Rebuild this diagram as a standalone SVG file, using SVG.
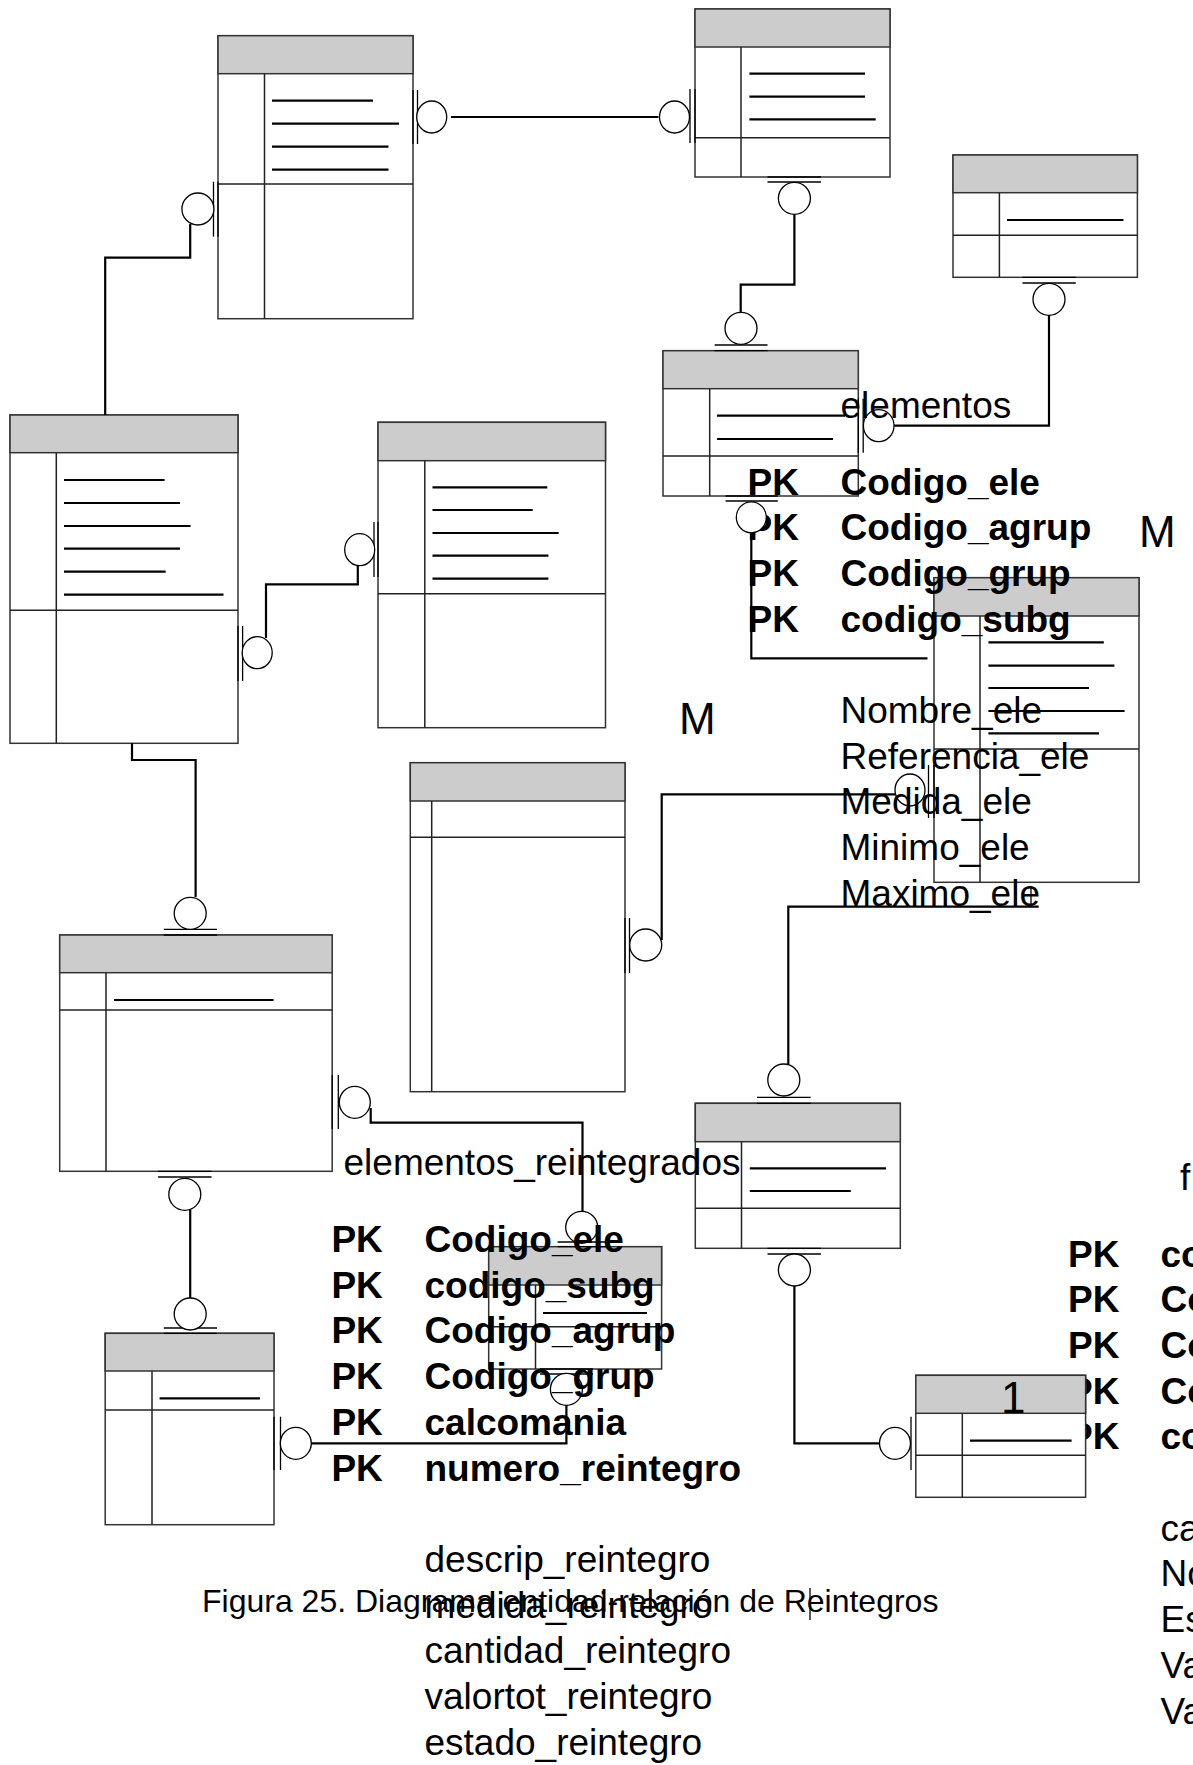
<svg xmlns="http://www.w3.org/2000/svg" width="1193" height="1765" viewBox="0 0 1193 1765">
  <style>
    .box { fill: #fff; stroke: #333; stroke-width: 1.5; }
    .hdr { fill: #ccc; stroke: #333; stroke-width: 1.5; }
    .sep { stroke: #222; stroke-width: 1.5; fill: none; }
    .fld { stroke: #000; stroke-width: 2.2; }
    .conn { fill: none; stroke: #000; stroke-width: 2.2; }
    .ring { fill: #fff; stroke: #000; stroke-width: 1.3; }
    .bar { stroke: #000; stroke-width: 1.3; }
    .t { font-family: "Liberation Sans", Arial, sans-serif; font-size: 37px; fill: #000; }
    .b { font-weight: bold; }
    .cap { font-size: 32px; }
    .big { font-size: 44px; }
  </style>

  <rect width="1193" height="1765" fill="#fff"/>

  <!-- entity boxes: outline, grey title band, key column, key/field divider, field rules -->
  <g id="entity-a">
    <rect class="box" x="218" y="35.7" width="195" height="283"/>
    <rect class="hdr" x="218" y="35.7" width="195" height="38"/>
    <line class="sep" x1="218" y1="184" x2="413" y2="184"/>
    <line class="sep" x1="264.5" y1="73.7" x2="264.5" y2="318.7"/>
    <line class="fld" x1="272" y1="100.7" x2="373" y2="100.7"/>
    <line class="fld" x1="272" y1="123.7" x2="399" y2="123.7"/>
    <line class="fld" x1="272" y1="146.7" x2="388.5" y2="146.7"/>
    <line class="fld" x1="272" y1="169.7" x2="388.5" y2="169.7"/>
  </g>
  <g id="entity-b">
    <rect class="box" x="695" y="9" width="195" height="168"/>
    <rect class="hdr" x="695" y="9" width="195" height="38"/>
    <line class="sep" x1="695" y1="137.7" x2="890" y2="137.7"/>
    <line class="sep" x1="741" y1="47" x2="741" y2="177"/>
    <line class="fld" x1="749.4" y1="73.7" x2="865" y2="73.7"/>
    <line class="fld" x1="749.4" y1="96.7" x2="865" y2="96.7"/>
    <line class="fld" x1="749.4" y1="119.3" x2="875.7" y2="119.3"/>
  </g>
  <g id="entity-c">
    <rect class="box" x="663" y="350.7" width="195.3" height="145.3"/>
    <rect class="hdr" x="663" y="350.7" width="195.3" height="38"/>
    <line class="sep" x1="663" y1="456" x2="858.3" y2="456"/>
    <line class="sep" x1="709.7" y1="388.7" x2="709.7" y2="496"/>
    <line class="fld" x1="717" y1="415.7" x2="845" y2="415.7"/>
    <line class="fld" x1="717" y1="439" x2="833" y2="439"/>
  </g>
  <g id="entity-d">
    <rect class="box" x="953" y="155" width="184.4" height="122.3"/>
    <rect class="hdr" x="953" y="155" width="184.4" height="37.7"/>
    <line class="sep" x1="953" y1="235.3" x2="1137.4" y2="235.3"/>
    <line class="sep" x1="999.4" y1="192.7" x2="999.4" y2="277.3"/>
    <line class="fld" x1="1007" y1="220" x2="1123.4" y2="220"/>
  </g>
  <g id="entity-e">
    <rect class="box" x="934" y="577.7" width="205" height="304.6"/>
    <rect class="hdr" x="934" y="577.7" width="205" height="38.3"/>
    <line class="sep" x1="934" y1="749" x2="1139" y2="749"/>
    <line class="sep" x1="980" y1="616" x2="980" y2="882.3"/>
    <line class="fld" x1="988.4" y1="642.3" x2="1103.8" y2="642.3"/>
    <line class="fld" x1="988.4" y1="665.7" x2="1114.4" y2="665.7"/>
    <line class="fld" x1="988.4" y1="688" x2="1089" y2="688"/>
    <line class="fld" x1="988.4" y1="711" x2="1124.6" y2="711"/>
    <line class="fld" x1="988.4" y1="733.3" x2="1099" y2="733.3"/>
  </g>
  <g id="entity-f">
    <rect class="box" x="10" y="415" width="228" height="328.3"/>
    <rect class="hdr" x="10" y="415" width="228" height="37.7"/>
    <line class="sep" x1="10" y1="610.3" x2="238" y2="610.3"/>
    <line class="sep" x1="56.3" y1="452.7" x2="56.3" y2="743.3"/>
    <line class="fld" x1="64" y1="480" x2="164.6" y2="480"/>
    <line class="fld" x1="64" y1="503" x2="180" y2="503"/>
    <line class="fld" x1="64" y1="526" x2="190.6" y2="526"/>
    <line class="fld" x1="64" y1="548.7" x2="180" y2="548.7"/>
    <line class="fld" x1="64" y1="571.7" x2="165.7" y2="571.7"/>
    <line class="fld" x1="64" y1="594.7" x2="223.5" y2="594.7"/>
  </g>
  <g id="entity-g">
    <rect class="box" x="378" y="422.3" width="227.5" height="305.4"/>
    <rect class="hdr" x="378" y="422.3" width="227.5" height="38.4"/>
    <line class="sep" x1="378" y1="593.7" x2="605.5" y2="593.7"/>
    <line class="sep" x1="424.8" y1="460.7" x2="424.8" y2="727.7"/>
    <line class="fld" x1="432.5" y1="487.3" x2="547.3" y2="487.3"/>
    <line class="fld" x1="432.5" y1="510" x2="532.7" y2="510"/>
    <line class="fld" x1="432.5" y1="533" x2="558.7" y2="533"/>
    <line class="fld" x1="432.5" y1="555.7" x2="548.4" y2="555.7"/>
    <line class="fld" x1="432.5" y1="578.7" x2="548.4" y2="578.7"/>
  </g>
  <g id="entity-k">
    <rect class="box" x="410.3" y="762.7" width="214.7" height="329"/>
    <rect class="hdr" x="410.3" y="762.7" width="214.7" height="38.3"/>
    <line class="sep" x1="410.3" y1="837.3" x2="625" y2="837.3"/>
    <line class="sep" x1="431.7" y1="801" x2="431.7" y2="1091.7"/>
  </g>
  <g id="entity-l">
    <rect class="box" x="59.7" y="935" width="272.5" height="236.3"/>
    <rect class="hdr" x="59.7" y="935" width="272.5" height="37.7"/>
    <line class="sep" x1="59.7" y1="1010" x2="332.2" y2="1010"/>
    <line class="sep" x1="106" y1="972.7" x2="106" y2="1171.3"/>
    <line class="fld" x1="114" y1="1000" x2="273.6" y2="1000"/>
  </g>
  <g id="entity-h">
    <rect class="box" x="488.7" y="1246.7" width="172.9" height="122.3"/>
    <rect class="hdr" x="488.7" y="1246.7" width="172.9" height="38.3"/>
    <line class="sep" x1="488.7" y1="1326.7" x2="661.6" y2="1326.7"/>
    <line class="sep" x1="535.5" y1="1285" x2="535.5" y2="1369"/>
    <line class="fld" x1="543" y1="1313" x2="647" y2="1313"/>
  </g>
  <g id="entity-i">
    <rect class="box" x="695.3" y="1103.3" width="205" height="145"/>
    <rect class="hdr" x="695.3" y="1103.3" width="205" height="38.4"/>
    <line class="sep" x1="695.3" y1="1208.3" x2="900.3" y2="1208.3"/>
    <line class="sep" x1="741.5" y1="1141.7" x2="741.5" y2="1248.3"/>
    <line class="fld" x1="749.8" y1="1168.3" x2="886" y2="1168.3"/>
    <line class="fld" x1="749.8" y1="1191" x2="850.8" y2="1191"/>
  </g>
  <g id="entity-j">
    <rect class="box" x="105.2" y="1333.3" width="168.8" height="191.4"/>
    <rect class="hdr" x="105.2" y="1333.3" width="168.8" height="37.7"/>
    <line class="sep" x1="105.2" y1="1410" x2="274" y2="1410"/>
    <line class="sep" x1="152" y1="1371" x2="152" y2="1524.7"/>
    <line class="fld" x1="159.6" y1="1398.3" x2="259.9" y2="1398.3"/>
  </g>

  <!-- relationship lines with their zero-or-one end marks -->
  <g id="connectors">
    <polyline class="conn" points="451,117 658.5,117"/>
    <polyline class="conn" points="794.4,214.3 794.4,284.7 740.7,284.7 740.7,312.3"/>
    <polyline class="conn" points="1049,315.3 1049,425.7 894.2,425.7"/>
    <polyline class="conn" points="190.2,224 190.2,257.7 105.2,257.7 105.2,415"/>
    <polyline class="conn" points="266,638 266,584.3 357.8,584.3 357.8,565.7"/>
    <polyline class="conn" points="132,743.3 132,760 195.6,760 195.6,897"/>
    <polyline class="conn" points="370.7,1108 370.7,1122.7 582.5,1122.7 582.5,1211"/>
    <polyline class="conn" points="190.2,1210 190.2,1298"/>
    <polyline class="conn" points="306,1443.3 566.4,1443.3 566.4,1405"/>
    <polyline class="conn" points="661.7,940 661.7,794.3 895,794.3"/>
    <polyline class="conn" points="788.3,1064 788.3,906.7 1038.7,906.7"/>
    <polyline class="conn" points="794.4,1286 794.4,1443.3 879,1443.3"/>
    <line class="bar" x1="1031" y1="886" x2="1031" y2="906"/>

    <!-- end marks: two bars at the entity edge, then a ring -->
    <line class="bar" x1="413" y1="90" x2="413" y2="144"/><line class="bar" x1="417.5" y1="90" x2="417.5" y2="144"/>
    <ellipse class="ring" cx="431.7" cy="117" rx="15" ry="16"/>
    <line class="bar" x1="695" y1="89" x2="695" y2="143"/><line class="bar" x1="690" y1="89" x2="690" y2="143"/>
    <ellipse class="ring" cx="674.5" cy="117" rx="15" ry="16"/>
    <line class="bar" x1="767.5" y1="177" x2="821" y2="177"/><line class="bar" x1="767.5" y1="182" x2="821" y2="182"/>
    <ellipse class="ring" cx="794.4" cy="198.3" rx="16" ry="16"/>
    <line class="bar" x1="714.6" y1="350.7" x2="767.5" y2="350.7"/><line class="bar" x1="714.6" y1="345" x2="767.5" y2="345"/>
    <ellipse class="ring" cx="741" cy="328.3" rx="16" ry="16"/>
    <line class="bar" x1="1022.5" y1="277.3" x2="1075.8" y2="277.3"/><line class="bar" x1="1022.5" y1="283" x2="1075.8" y2="283"/>
    <ellipse class="ring" cx="1049" cy="299.3" rx="16" ry="16"/>
    <line class="bar" x1="858.3" y1="398.7" x2="858.3" y2="452.7"/><line class="bar" x1="863.2" y1="398.7" x2="863.2" y2="452.7"/>
    <ellipse class="ring" cx="878.7" cy="425.7" rx="15.3" ry="16"/>
    <line class="bar" x1="218" y1="181.7" x2="218" y2="236.7"/><line class="bar" x1="213.5" y1="181.7" x2="213.5" y2="236.7"/>
    <ellipse class="ring" cx="197.9" cy="209" rx="16" ry="16"/>
    <line class="bar" x1="238" y1="626" x2="238" y2="681"/><line class="bar" x1="242.6" y1="626" x2="242.6" y2="681"/>
    <ellipse class="ring" cx="257.2" cy="652.7" rx="15" ry="16"/>
    <line class="bar" x1="378" y1="522" x2="378" y2="577"/><line class="bar" x1="374" y1="522" x2="374" y2="577"/>
    <ellipse class="ring" cx="359.7" cy="549.7" rx="15" ry="16"/>
    <line class="bar" x1="163.8" y1="935" x2="217" y2="935"/><line class="bar" x1="163.8" y1="929.3" x2="217" y2="929.3"/>
    <ellipse class="ring" cx="190.2" cy="913.3" rx="16" ry="16"/>
    <line class="bar" x1="332.2" y1="1075" x2="332.2" y2="1129"/><line class="bar" x1="338.3" y1="1075" x2="338.3" y2="1129"/>
    <ellipse class="ring" cx="354.8" cy="1102.3" rx="15.5" ry="16"/>
    <line class="bar" x1="158" y1="1171.3" x2="211.6" y2="1171.3"/><line class="bar" x1="158" y1="1177" x2="211.6" y2="1177"/>
    <ellipse class="ring" cx="184.8" cy="1194.3" rx="16" ry="16"/>
    <line class="bar" x1="163.8" y1="1333.3" x2="217" y2="1333.3"/><line class="bar" x1="163.8" y1="1328" x2="217" y2="1328"/>
    <ellipse class="ring" cx="190.2" cy="1314" rx="16" ry="16"/>
    <line class="bar" x1="274" y1="1416.7" x2="274" y2="1470"/><line class="bar" x1="280.5" y1="1416.7" x2="280.5" y2="1470"/>
    <ellipse class="ring" cx="295.8" cy="1443.3" rx="15.5" ry="16"/>
    <line class="bar" x1="557.6" y1="1246.7" x2="606" y2="1246.7"/><line class="bar" x1="557.6" y1="1242" x2="606" y2="1242"/>
    <ellipse class="ring" cx="581.7" cy="1227.3" rx="16" ry="16"/>
    <line class="bar" x1="540" y1="1369" x2="593" y2="1369"/><line class="bar" x1="540" y1="1374" x2="593" y2="1374"/>
    <ellipse class="ring" cx="566.4" cy="1389.3" rx="16" ry="16"/>
    <line class="bar" x1="625" y1="918" x2="625" y2="973"/><line class="bar" x1="629.5" y1="918" x2="629.5" y2="973"/>
    <ellipse class="ring" cx="645.7" cy="945" rx="16" ry="16"/>
    <line class="bar" x1="934" y1="765" x2="934" y2="818"/><line class="bar" x1="928.5" y1="765" x2="928.5" y2="818"/>
    <ellipse class="ring" cx="910" cy="790" rx="15" ry="16"/>
    <line class="bar" x1="757" y1="1103.3" x2="810.7" y2="1103.3"/><line class="bar" x1="757" y1="1097.3" x2="810.7" y2="1097.3"/>
    <ellipse class="ring" cx="783.8" cy="1080" rx="16" ry="16"/>
    <line class="bar" x1="767.5" y1="1248.3" x2="821" y2="1248.3"/><line class="bar" x1="767.5" y1="1254" x2="821" y2="1254"/>
    <ellipse class="ring" cx="794.4" cy="1270" rx="16" ry="16"/>
    <line class="bar" x1="916" y1="1416.7" x2="916" y2="1470"/><line class="bar" x1="911" y1="1416.7" x2="911" y2="1470"/>
    <ellipse class="ring" cx="895" cy="1443.3" rx="15.5" ry="16"/>
  </g>

  <!-- table listings -->
  <g id="table-elementos" class="t">
    <text x="840.5" y="417.5">elementos</text>
    <g class="b">
      <text x="747.5" y="494.5">PK</text><text x="840.5" y="494.5">Codigo_ele</text>
      <text x="747.5" y="540.2">PK</text><text x="840.5" y="540.2">Codigo_agrup</text>
      <text x="747.5" y="585.9">PK</text><text x="840.5" y="585.9">Codigo_grup</text>
      <text x="747.5" y="631.6">PK</text><text x="840.5" y="631.6">codigo_subg</text>
    </g>
    <text x="840.5" y="723">Nombre_ele</text>
    <text x="840.5" y="768.7">Referencia_ele</text>
    <text x="840.5" y="814.4">Medida_ele</text>
    <text x="840.5" y="860.1">Minimo_ele</text>
    <text x="840.5" y="905.8">Maximo_ele</text>
  </g>
  <g id="table-elementos-reintegrados" class="t">
    <text x="343.5" y="1175">elementos_reintegrados</text>
    <g class="b">
      <text x="331.4" y="1252">PK</text><text x="424.5" y="1252">Codigo_ele</text>
      <text x="331.4" y="1297.7">PK</text><text x="424.5" y="1297.7">codigo_subg</text>
      <text x="331.4" y="1343.4">PK</text><text x="424.5" y="1343.4">Codigo_agrup</text>
      <text x="331.4" y="1389.1">PK</text><text x="424.5" y="1389.1">Codigo_grup</text>
      <text x="331.4" y="1434.8">PK</text><text x="424.5" y="1434.8">calcomania</text>
      <text x="331.4" y="1480.5">PK</text><text x="424.5" y="1480.5">numero_reintegro</text>
    </g>
    <text x="424.5" y="1571.9">descrip_reintegro</text>
    <text x="424.5" y="1617.6">medida_reintegro</text>
    <text x="424.5" y="1663.3">cantidad_reintegro</text>
    <text x="424.5" y="1709">valortot_reintegro</text>
    <text x="424.5" y="1754.7">estado_reintegro</text>
  </g>
  <g id="table-f" class="t">
    <text x="1180" y="1189.5">f</text>
    <g class="b">
      <text x="1068" y="1266.5">PK</text><text x="1160.5" y="1266.5">co</text>
      <text x="1068" y="1312.2">PK</text><text x="1160.5" y="1312.2">Co</text>
      <text x="1068" y="1357.9">PK</text><text x="1160.5" y="1357.9">Co</text>
      <text x="1068" y="1403.6">PK</text><text x="1160.5" y="1403.6">Co</text>
      <text x="1068" y="1449.3">PK</text><text x="1160.5" y="1449.3">co</text>
    </g>
    <text x="1160.5" y="1540.7">ca</text>
    <text x="1160.5" y="1586.4">No</text>
    <text x="1160.5" y="1632.1">Es</text>
    <text x="1160.5" y="1677.8">Va</text>
    <text x="1160.5" y="1723.5">Va</text>
  </g>
  <g id="cardinality" class="t big">
    <text x="1139" y="546.5">M</text>
    <text x="679" y="734">M</text>
  </g>
  <text class="t cap" x="202" y="1612">Figura 25. Diagrama entidad-relación de Reintegros</text>
  <line class="bar" x1="810" y1="1588" x2="810" y2="1620" stroke-width="1.6"/>

  <!-- front layer: link under elementos and the small entity holding "1" -->
  <g id="connectors-front">
    <polyline class="conn" points="751.3,532.8 751.3,658.3 927.5,658.3"/>
    <line class="bar" x1="725.6" y1="496" x2="777.8" y2="496"/><line class="bar" x1="725.6" y1="501" x2="777.8" y2="501"/>
    <ellipse class="ring" cx="751.3" cy="517.3" rx="15" ry="15.5"/>
  </g>
  <g id="entity-n">
    <rect class="box" x="915.8" y="1375.3" width="169.8" height="122"/>
    <rect class="hdr" x="915.8" y="1375.3" width="169.8" height="38"/>
    <line class="sep" x1="915.8" y1="1455.3" x2="1085.6" y2="1455.3"/>
    <line class="sep" x1="962.3" y1="1413.3" x2="962.3" y2="1497.3"/>
    <line class="fld" x1="970" y1="1440.7" x2="1071.6" y2="1440.7"/>
    <text class="t big" x="1001" y="1412.5">1</text>
  </g>
</svg>
